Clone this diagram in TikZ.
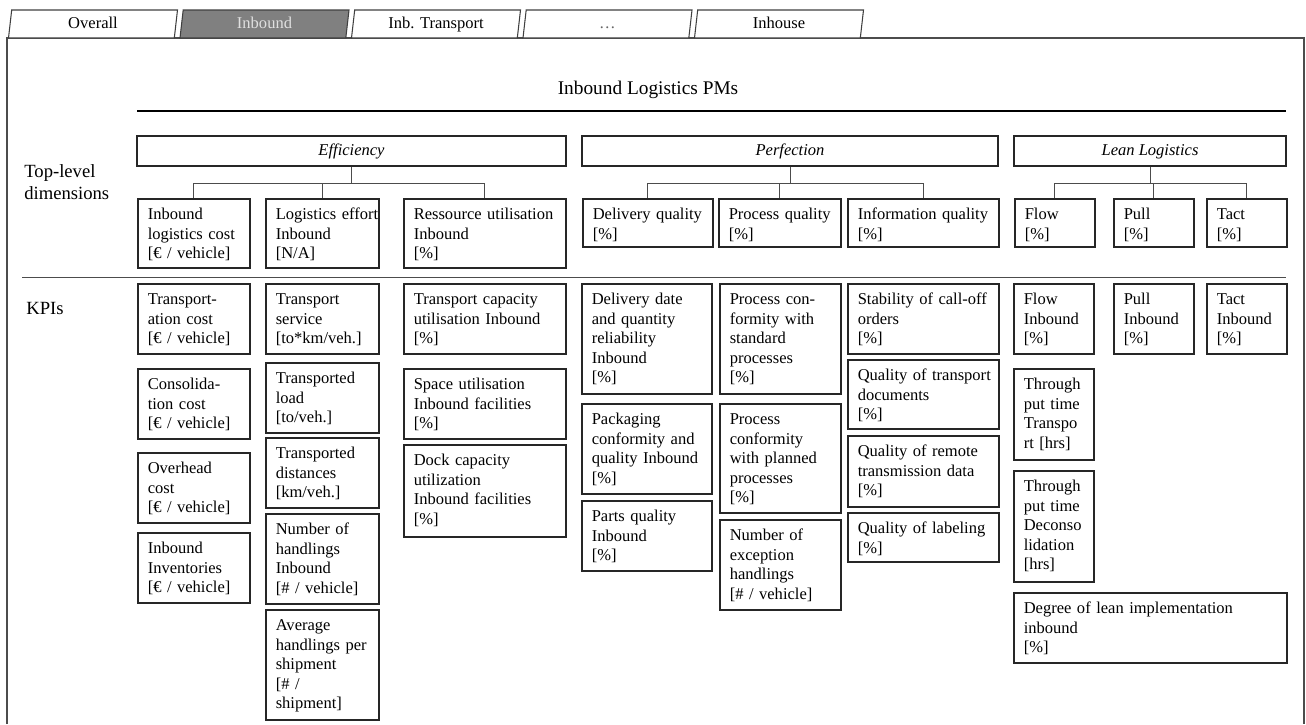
\documentclass[tikz,border=0pt]{standalone}
\usepackage{fontspec}
\setmainfont{Liberation Serif}
\usetikzlibrary{shapes.geometric}

\newcommand{\boxfont}{\fontsize{9.4}{11.1}\selectfont
  \hyphenpenalty=10000\exhyphenpenalty=10000}

\begin{document}
\begin{tikzpicture}[
  frameline/.style={draw=black!70, line width=1pt},
  tab/.style={
    trapezium, trapezium left angle=78, trapezium right angle=102,
    trapezium stretches body, draw=black!75, line width=0.6pt, fill=white,
    minimum width=3.38cm, minimum height=0.56cm, inner sep=0pt,
    text height=0.23cm, text depth=0.07cm, font=\boxfont
  },
  tabactive/.style={tab, fill=black!50, text=black!12},
  dimbox/.style={
    draw=black!85, line width=0.9pt, minimum height=0.6cm, inner sep=0pt,
    text height=0.23cm, text depth=0.07cm, font=\boxfont\itshape
  },
  kpi/.style 2 args={
    draw=black!85, line width=0.9pt, anchor=north west, align=left,
    inner xsep=0.2cm, inner ysep=0pt, text height=0.42cm,
    text width=#1cm, text depth=#2cm, font=\boxfont
  },
  tree/.style={draw=black!70, line width=0.5pt},
  sidelabel/.style={anchor=west, align=left, inner sep=0pt,
    font=\fontsize{10.6}{12.5}\selectfont},
]

\useasboundingbox (0,0) rectangle (26.12,-14.48);

%%% Frame
\draw[frameline] (0.14,-14.48) -- (0.14,-0.76) -- (26.08,-0.76) -- (26.08,-14.48);

%%% Tabs
\node[tab] (tOverall) at (1.86,-0.48) {Overall};
\node[tabactive] (tInbound) at (5.29,-0.48) {Inbound};
\node[tab] (tTransport) at (8.72,-0.48) {Inb. Transport};
\node[tab, text=black!60] (tMore) at (12.15,-0.48) {…};
\node[tab] (tInhouse) at (15.58,-0.48) {Inhouse};

%%% Title
\node[font=\fontsize{11}{13}\selectfont] (title) at (12.96,-1.80)
  {Inbound Logistics PMs};
\draw[line width=1.2pt] (2.74,-2.22) -- (25.72,-2.22);

%%% Row labels
\node[sidelabel] (lblTop) at (0.48,-3.65) {Top-level\\dimensions};
\node[sidelabel] (lblKpi) at (0.52,-6.16) {KPIs};
\draw[tree] (0.44,-5.54) -- (25.72,-5.54);

%%% Top-level dimensions
\node[dimbox, minimum width=8.58cm] (eff) at (7.03,-3.02) {Efficiency};
\node[dimbox, minimum width=8.32cm] (perf) at (15.80,-3.02) {Perfection};
\node[dimbox, minimum width=5.44cm] (lean) at (23.00,-3.02) {Lean Logistics};

\node[kpi={1.84}{0.96}] (effCost) at (2.74,-3.96)
  {Inbound\\logistics cost\\{}[€ / vehicle]};
\node[kpi={1.86}{0.96}] (effEffort) at (5.30,-3.96)
  {Logistics~effort\\Inbound\\{}[N/A]};
\node[kpi={2.84}{0.96}] (effRes) at (8.06,-3.96)
  {Ressource~utilisation\\Inbound\\{}[\%]};

\node[kpi={2.20}{0.54}] (perfDel) at (11.64,-3.96)
  {Delivery~quality\\{}[\%]};
\node[kpi={2.04}{0.54}] (perfProc) at (14.36,-3.96)
  {Process~quality\\{}[\%]};
\node[kpi={2.62}{0.54}] (perfInfo) at (16.94,-3.96)
  {Information~quality\\{}[\%]};

\node[kpi={1.20}{0.54}] (leanFlow) at (20.28,-3.96) {Flow\\{}[\%]};
\node[kpi={1.20}{0.54}] (leanPull) at (22.26,-3.96) {Pull\\{}[\%]};
\node[kpi={1.20}{0.54}] (leanTact) at (24.12,-3.96) {Tact\\{}[\%]};

\foreach \c in {effCost,effEffort,effRes}
  \draw[tree] (eff.south) -- ++(0,-0.34) -| (\c.north);
\foreach \c in {perfDel,perfProc,perfInfo}
  \draw[tree] (perf.south) -- ++(0,-0.34) -| (\c.north);
\foreach \c in {leanFlow,leanPull,leanTact}
  \draw[tree] (lean.south) -- ++(0,-0.34) -| (\c.north);

%%% KPIs: cost
\node[kpi={1.84}{0.98}] (kTransCost) at (2.74,-5.66)
  {Transport-\\ation cost\\{}[€ / vehicle]};
\node[kpi={1.84}{0.98}] (kConsCost) at (2.74,-7.36)
  {Consolida-\\tion cost\\{}[€ / vehicle]};
\node[kpi={1.84}{0.98}] (kOverCost) at (2.74,-9.04)
  {Overhead\\cost\\{}[€ / vehicle]};
\node[kpi={1.84}{0.98}] (kInvCost) at (2.74,-10.64)
  {Inbound\\Inventories\\{}[€ / vehicle]};

%%% KPIs: effort
\node[kpi={1.86}{0.98}] (kService) at (5.30,-5.66)
  {Transport\\service\\{}[to*km/veh.]};
\node[kpi={1.86}{0.98}] (kLoad) at (5.30,-7.24)
  {Transported\\load\\{}[to/veh.]};
\node[kpi={1.86}{0.98}] (kDist) at (5.30,-8.74)
  {Transported\\distances\\{}[km/veh.]};
\node[kpi={1.86}{1.38}] (kHandl) at (5.30,-10.26)
  {Number of\\handlings\\Inbound\\{}[\# / vehicle]};
\node[kpi={1.86}{1.78}] (kAvgHandl) at (5.30,-12.18)
  {Average\\handlings~per\\shipment\\{}[\# /\\shipment]};

%%% KPIs: resources
\node[kpi={2.84}{0.98}] (kCapUtil) at (8.06,-5.66)
  {Transport~capacity\\utilisation~Inbound\\{}[\%]};
\node[kpi={2.84}{0.98}] (kSpace) at (8.06,-7.36)
  {Space utilisation\\Inbound facilities\\{}[\%]};
\node[kpi={2.84}{1.42}] (kDock) at (8.06,-8.88)
  {Dock capacity\\utilization\\Inbound facilities\\{}[\%]};

%%% KPIs: delivery
\node[kpi={2.20}{1.78}] (kDate) at (11.62,-5.66)
  {Delivery date\\and quantity\\reliability\\Inbound\\{}[\%]};
\node[kpi={2.20}{1.38}] (kPack) at (11.62,-8.06)
  {Packaging\\conformity and\\quality~Inbound\\{}[\%]};
\node[kpi={2.20}{0.98}] (kParts) at (11.62,-10.00)
  {Parts quality\\Inbound\\{}[\%]};

%%% KPIs: process
\node[kpi={2.02}{1.78}] (kStdProc) at (14.38,-5.66)
  {Process con-\\formity with\\standard\\processes\\{}[\%]};
\node[kpi={2.02}{1.76}] (kPlanProc) at (14.38,-8.06)
  {Process\\conformity\\with planned\\processes\\{}[\%]};
\node[kpi={2.02}{1.38}] (kExcept) at (14.38,-10.38)
  {Number of\\exception\\handlings\\{}[\# / vehicle]};

%%% KPIs: information
\node[kpi={2.62}{0.98}] (kCallOff) at (16.94,-5.66)
  {Stability~of~call-off\\orders\\{}[\%]};
\node[kpi={2.62}{0.96}] (kDocs) at (16.94,-7.18)
  {Quality~of~transport\\documents\\{}[\%]};
\node[kpi={2.62}{1.00}] (kRemote) at (16.94,-8.70)
  {Quality of remote\\transmission data\\{}[\%]};
\node[kpi={2.62}{0.56}] (kLabel) at (16.94,-10.24)
  {Quality~of~labeling\\{}[\%]};

%%% KPIs: lean
\node[kpi={1.20}{0.98}] (kFlow) at (20.26,-5.66) {Flow\\Inbound\\{}[\%]};
\node[kpi={1.20}{0.98}] (kPull) at (22.26,-5.66) {Pull\\Inbound\\{}[\%]};
\node[kpi={1.20}{0.98}] (kTact) at (24.12,-5.66) {Tact\\Inbound\\{}[\%]};
\node[kpi={1.20}{1.40}] (kTptTrans) at (20.26,-7.36)
  {Through\\put time\\Transpo\\rt [hrs]};
\node[kpi={1.20}{1.80}] (kTptDecons) at (20.26,-9.40)
  {Through\\put time\\Deconso\\lidation\\{}[hrs]};
\node[kpi={5.06}{0.98}] (kLeanDeg) at (20.26,-11.84)
  {Degree of lean implementation\\inbound\\{}[\%]};

\end{tikzpicture}
\end{document}
